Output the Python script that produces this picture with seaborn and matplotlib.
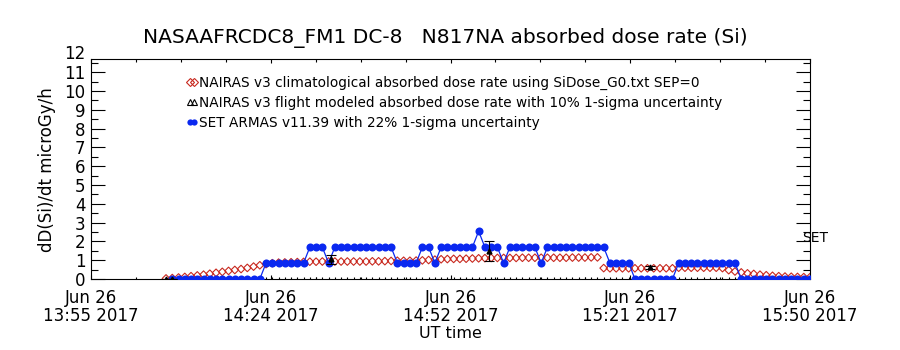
import numpy as np
import pandas as pd
import matplotlib
matplotlib.use("Agg")
import matplotlib.pyplot as plt
from matplotlib.lines import Line2D
import seaborn as sns

# ---- data (minutes after 13:55 UT, Jun 26 2017) ----
minutes = list(range(12, 116))

set_armas = [np.nan] + [0.0]*15 + [0.85]*7 + [1.69]*3 + [0.85] + [1.69]*10 + [0.85]*4 + \
    [1.69]*2 + [0.85] + [1.69]*6 + [2.54] + [1.69]*3 + [0.85] + [1.69]*5 + [0.85] + \
    [1.69]*10 + [0.85]*4 + [0.0]*7 + [0.85]*10 + [0.0]*12

nairas_clim = [0.03, 0.05, 0.08, 0.11, 0.15, 0.19, 0.23, 0.28, 0.33, 0.38, 0.43, 0.48,
               0.53, 0.59, 0.66, 0.73, 0.79, 0.84, 0.87, 0.88, 0.89, 0.90, 0.91, 0.92,
               0.92, 0.93, 0.93, 0.93, 0.93, 0.93, 0.93, 0.93, 0.93, 0.94, 0.94, 0.95,
               0.96, 0.97, 0.97, 0.97, 0.98, 0.99, 1.01, 1.03, 1.05, 1.06, 1.07, 1.07,
               1.08, 1.09, 1.10, 1.11, 1.12, 1.12, 1.12, 1.12, 1.12, 1.13, 1.13, 1.13,
               1.13, 1.13, 1.13, 1.13, 1.13, 1.14, 1.14, 1.14, 1.15, 1.15, 0.58, 0.57,
               0.57, 0.57, 0.57, 0.57, 0.57, 0.57, 0.57, 0.57, 0.57, 0.57, 0.60, 0.60,
               0.60, 0.60, 0.60, 0.60, 0.60, 0.58, 0.47, 0.40, 0.35, 0.30, 0.27, 0.23,
               0.20, 0.17, 0.15, 0.13, 0.12, 0.11, 0.10, 0.10]

flight_minutes = [12.0, 13.0, 38.4, 63.7, 89.4]
flight_values = [0.02, 0.02, 1.04, 1.50, 0.62]
flight_err = [0.0, 0.0, 0.24, 0.53, 0.09]

xtick_pos = [0, 28.75, 57.5, 86.25, 115]
xtick_labels = ["Jun 26\n13:55 2017", "Jun 26\n14:24 2017", "Jun 26\n14:52 2017",
                "Jun 26\n15:21 2017", "Jun 26\n15:50 2017"]
ytick_pos = [0, 1, 2, 3, 4, 5, 6, 7, 8, 9, 10, 11]
ytick_labels = ["0", "1", "2", "3", "4", "5", "6", "7", "8", "9", "10", "11"]
ytop_label = "12"

legend_labels = [
    "NAIRAS v3 climatological absorbed dose rate using SiDose_G0.txt SEP=0",
    "NAIRAS v3 flight modeled absorbed dose rate with 10% 1-sigma uncertainty",
    "SET ARMAS v11.39 with 22% 1-sigma uncertainty",
]

df = pd.DataFrame({"minute": minutes, "set": set_armas, "clim": nairas_clim})

sns.set_style("white")
plt.rcParams["font.family"] = ["DejaVu Sans"]
plt.rcParams.update({"text.color": "black", "axes.labelcolor": "black",
                     "xtick.color": "black", "ytick.color": "black"})

fig = plt.figure(figsize=(9, 3.5), dpi=100)
ax = fig.add_axes([91/900, 1-279/350, 719/900, 220/350])

red = "#c8281e"
blue = "#0a28f0"

sns.scatterplot(data=df, x="minute", y="clim", ax=ax, marker="D", s=15,
                facecolors="none", edgecolor=red, linewidth=0.8, zorder=3,
                legend=False)
ax.errorbar(flight_minutes, flight_values, yerr=flight_err, fmt="^", color="black",
            ms=3.5, mfc="black", capsize=3.5, elinewidth=0.8, capthick=0.8,
            zorder=5)
sns.lineplot(data=df.dropna(), x="minute", y="set", ax=ax, color=blue, lw=0.9,
             marker="o", markersize=5.8, markeredgewidth=0, zorder=4, legend=False)

ax.set_xlim(0, 115)
ax.set_ylim(0, 11.7)
ax.set_xticks(xtick_pos)
ax.set_xticklabels(xtick_labels, fontsize=12, linespacing=1.0)
quarters = [i * 28.75 / 4 for i in range(17)]
ax.set_xticks(sorted(set(quarters) | set(minutes[1:])), minor=True)
ax.set_yticks(ytick_pos)
ax.set_yticklabels(ytick_labels, fontsize=12)
ax.set_yticks(np.arange(0.5, 11.7, 1.0), minor=True)
ax.set_xlabel("UT time", fontsize=11.5, labelpad=1)
ax.set_ylabel("")
ax.text(-0.008, 11.95, ytop_label, transform=ax.get_yaxis_transform(), fontsize=12,
        ha="right", va="center", clip_on=False)

ax.tick_params(axis="x", which="major", direction="in", length=3.2, width=0.8,
               pad=7, bottom=True, top=False)
ax.tick_params(axis="x", which="minor", direction="in", length=1.8, width=0.8,
               bottom=True, top=False)
ax.tick_params(axis="y", which="major", direction="in", length=10.4, width=0.8,
               left=True, right=True, pad=4)
ax.tick_params(axis="y", which="minor", direction="in", length=5.2, width=0.8,
               left=True, right=True)
for sp in ax.spines.values():
    sp.set_color("black")
    sp.set_linewidth(0.8)

top = ax.twiny()
top.set_xlim(ax.get_xlim())
top.set_xticks(xtick_pos)
top.set_xticks(quarters, minor=True)
top.set_xticklabels([])
top.tick_params(axis="x", which="major", direction="in", length=3.2, width=0.8)
top.tick_params(axis="x", which="minor", direction="in", length=1.8, width=0.8)
for sp in top.spines.values():
    sp.set_visible(False)

handles = [
    Line2D([], [], ls="none", marker="D", ms=3.8, mfc="none", mec=red, mew=0.8),
    Line2D([], [], ls="none", marker="^", ms=4.5, mfc="none", mec="black", mew=0.8),
    Line2D([], [], ls="-", lw=0.9, color=blue, marker="o", ms=4.5, mew=0),
]
leg = ax.legend(handles, legend_labels, loc="upper left", bbox_to_anchor=(0.125, 0.95),
                frameon=False, fontsize=9.8, numpoints=2, handlelength=0.9,
                handletextpad=0.05, labelspacing=0.45, borderaxespad=0)

ax.text(113.7, 2.2, "SET", fontsize=10, ha="left", va="center", clip_on=False)

fig.text(445/900, 1-38/350, "NASAAFRCDC8_FM1 DC-8   N817NA absorbed dose rate (Si)",
         ha="center", va="center", fontsize=14.5)
fig.text(47/900, 1-170/350, "dD(Si)/dt microGy/h", rotation=90, ha="center",
         va="center", fontsize=12)

fig.savefig("out.png", dpi=100, facecolor="white")
